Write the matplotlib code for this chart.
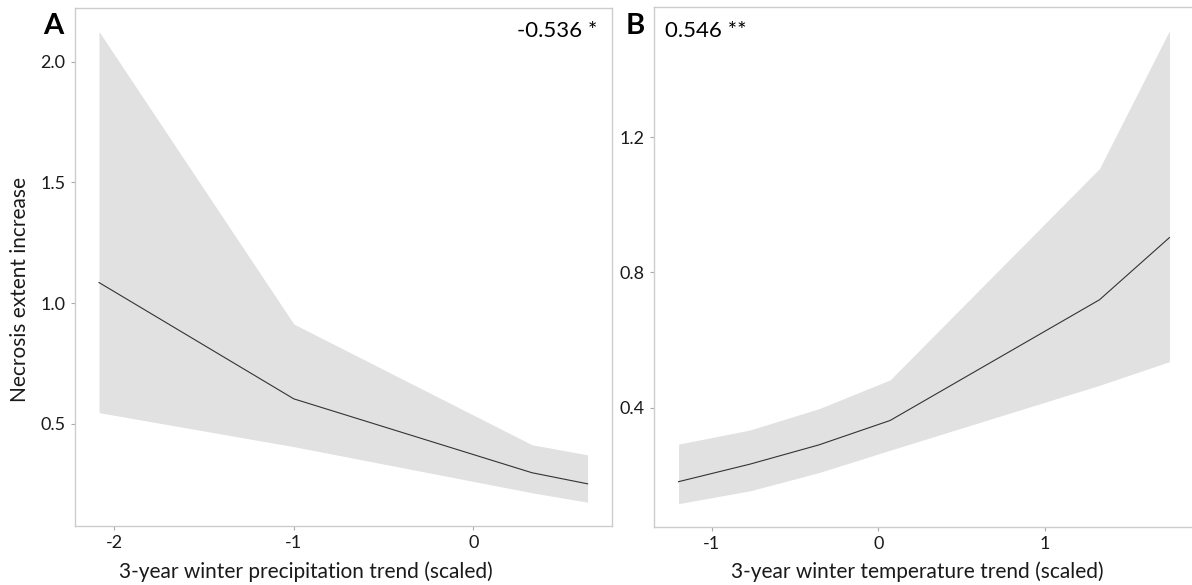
import matplotlib
matplotlib.use("Agg")
import matplotlib.pyplot as plt

plt.rcParams['font.family'] = ['Lato', 'DejaVu Sans']

# Panel A: precipitation trend
precip_x = [-2.085, -1.0, 0.326, 0.636]
precip_fit = [1.085, 0.603, 0.297, 0.251]
precip_hi = [2.125, 0.913, 0.413, 0.371]
precip_lo = [0.546, 0.405, 0.214, 0.175]

# Panel B: temperature trend
temp_x = [-1.2, -0.77, -0.356, 0.07, 1.327, 1.747]
temp_fit = [0.181, 0.233, 0.290, 0.362, 0.719, 0.903]
temp_hi = [0.292, 0.334, 0.397, 0.482, 1.107, 1.515]
temp_lo = [0.116, 0.154, 0.208, 0.274, 0.466, 0.536]

precip_xticks = [-2, -1, 0]
precip_yticks = [0.5, 1.0, 1.5, 2.0]
temp_xticks = [-1, 0, 1]
temp_yticks = [0.4, 0.8, 1.2]

W, H = 1192, 585
fig = plt.figure(figsize=(W / 100, H / 100), dpi=100)

def box(l, r, t, b):
    return [l / W, 1 - b / H, (r - l) / W, (b - t) / H]

axA = fig.add_axes(box(74.6, 612, 8, 525.7))
axB = fig.add_axes(box(654, 1194, 7, 527.3))

def style(ax, x, fit, lo, hi, xt, yt):
    ax.fill_between(x, lo, hi, color='#e1e1e1', linewidth=0, zorder=1)
    ax.plot(x, fit, color='#333333', linewidth=0.8, zorder=2)
    xr = max(x) - min(x)
    ax.set_xlim(min(x) - 0.05 * xr, max(x) + 0.05 * xr)
    ymin, ymax = min(lo), max(hi)
    yr = ymax - ymin
    ax.set_ylim(ymin - 0.05 * yr, ymax + 0.05 * yr)
    ax.set_xticks(xt)
    ax.set_xticklabels([f"{v:g}" for v in xt])
    ax.set_yticks(yt)
    ax.set_yticklabels([f"{v:.1f}" for v in yt])
    for s in ax.spines.values():
        s.set_color('#cccccc')
        s.set_linewidth(1.0)
    ax.tick_params(axis='both', length=3, width=0.8, color='#aaaaaa',
                   labelsize=13, labelcolor='#1a1a1a', pad=3.5)
    ax.set_facecolor('white')

style(axA, precip_x, precip_fit, precip_lo, precip_hi, precip_xticks, precip_yticks)
style(axB, temp_x, temp_fit, temp_lo, temp_hi, temp_xticks, temp_yticks)

fig.text(20 / W, 1 - 290 / H, "Necrosis extent increase", rotation=90,
         ha='center', va='center', fontsize=15, color='#1a1a1a')
fig.text(306 / W, 1 - 578 / H, "3-year winter precipitation trend (scaled)",
         ha='center', va='baseline', fontsize=15, color='#1a1a1a')
fig.text(917 / W, 1 - 578 / H, "3-year winter temperature trend (scaled)",
         ha='center', va='baseline', fontsize=15, color='#1a1a1a')

fig.text(53 / W, 1 - 34 / H, "A", ha='center', va='baseline',
         fontsize=21, fontweight='bold', color='black')
fig.text(635 / W, 1 - 34 / H, "B", ha='center', va='baseline',
         fontsize=21, fontweight='bold', color='black')
fig.text(597 / W, 1 - 37 / H, "-0.536 *", ha='right', va='baseline',
         fontsize=16, color='black')
fig.text(665 / W, 1 - 37 / H, "0.546 **", ha='left', va='baseline',
         fontsize=16, color='black')

fig.savefig("out.png", dpi=100, facecolor='white')
